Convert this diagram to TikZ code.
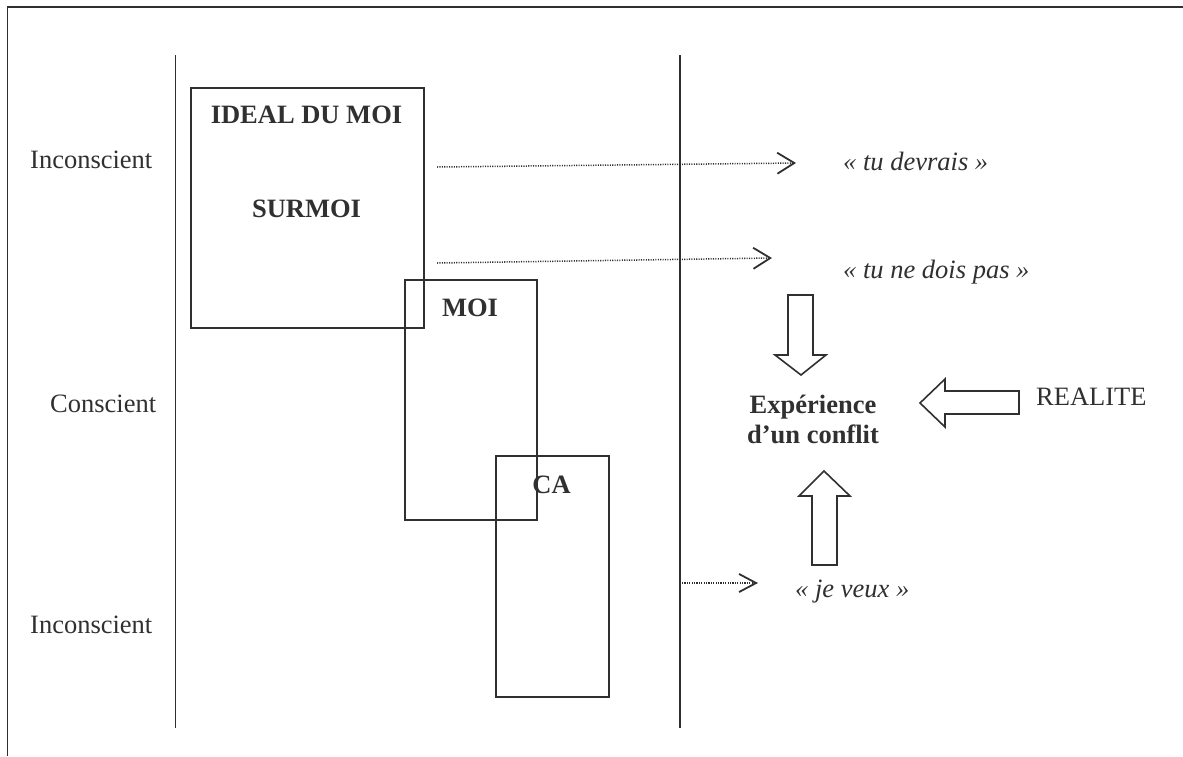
\documentclass[tikz,border=0pt]{standalone}
\usepackage{fontspec}
\setmainfont{Liberation Serif}
\usetikzlibrary{arrows.meta}
\definecolor{ink}{HTML}{303030}
\begin{document}
\begin{tikzpicture}[x=1pt,y=-1pt,
  every node/.style={inner sep=0pt, font=\fontsize{26.5}{30}\selectfont, text=ink},
  rule/.style={draw=ink, line width=1.9pt},
  zone/.style={draw=ink, line width=1.9pt, anchor=north west},
  lbl/.style={anchor=base west},
  boldlbl/.style={anchor=base, font=\fontsize{26.5}{30}\selectfont\bfseries},
  ital/.style={anchor=base west, font=\fontsize{26.5}{30}\selectfont\itshape},
  dotarrow/.style={draw=ink, line width=1.5pt, dash pattern=on 1.1pt off 1.3pt,
    -{Straight Barb[length=17pt,width=21pt,line width=1.8pt]}},
  blockarrow/.style={draw=ink, line width=1.6pt, fill=white}]
\useasboundingbox (0,0) rectangle (1183,756);

% frame (top and left edges only visible)
\coordinate (fTL) at (7.5,7);
\coordinate (fTR) at (1183,7);
\coordinate (fBL) at (7.5,756);
\draw[rule] (fTR) -- (fTL) -- (fBL);

% vertical separators
\coordinate (v1t) at (175.5,55);
\coordinate (v1b) at (175.5,728);
\coordinate (v2t) at (680,55);
\coordinate (v2b) at (680,728);
\draw[rule] (v1t) -- (v1b);
\draw[rule] (v2t) -- (v2b);

% level labels
\node[lbl] (inc1) at (30,168) {Inconscient};
\node[lbl] (cons) at (50,412) {Conscient};
\node[lbl] (inc2) at (30,633) {Inconscient};

% boxes
\node[zone, minimum width=233pt, minimum height=240pt] (ideal) at (190,87) {};
\node[zone, minimum width=132pt, minimum height=240pt] (moi) at (404,279) {};
\node[zone, minimum width=113pt, minimum height=241pt] (ca) at (495,455) {};

\node[boldlbl] (tideal) at (306.5,123) {IDEAL DU MOI};
\node[boldlbl] (tsur) at (306.5,217) {SURMOI};
\node[boldlbl] (tmoi) at (470,316) {MOI};
\node[boldlbl] (tca) at (551.5,493) {CA};

% dotted arrows
\coordinate (d1s) at (437,167);
\coordinate (d1e) at (796,163);
\coordinate (d2s) at (437,263);
\coordinate (d2e) at (772,258);
\coordinate (d3s) at (682,583);
\coordinate (d3e) at (758,583);
\draw[dotarrow] (d1s) -- (d1e);
\draw[dotarrow] (d2s) -- (d2e);
\draw[dotarrow, -{Straight Barb[length=17pt,width=18pt,line width=1.8pt]}] (d3s) -- (d3e);

% italic messages
\node[ital] (devrais) at (843,170) {« tu devrais »};
\node[ital] (dois) at (843,278) {« tu ne dois pas »};
\node[ital] (veux) at (795,597) {« je veux »};

% conflict
\node[boldlbl] (exp1) at (813,413) {Expérience};
\node[boldlbl] (exp2) at (813,443) {d’un conflit};
\node[lbl] (real) at (1036,405) {REALITE};

% block arrows
\draw[blockarrow] (788,295) -- (813,295) -- (813,355) -- (826,355) -- (801,375)
  -- (775,355) -- (788,355) -- cycle;
\draw[blockarrow] (1019,391) -- (1019,414) -- (945,414) -- (945,427) -- (920,403)
  -- (945,379) -- (945,391) -- cycle;
\draw[blockarrow] (812,565) -- (837,565) -- (837,496) -- (850,496) -- (824,471)
  -- (799,496) -- (812,496) -- cycle;
\end{tikzpicture}
\end{document}
